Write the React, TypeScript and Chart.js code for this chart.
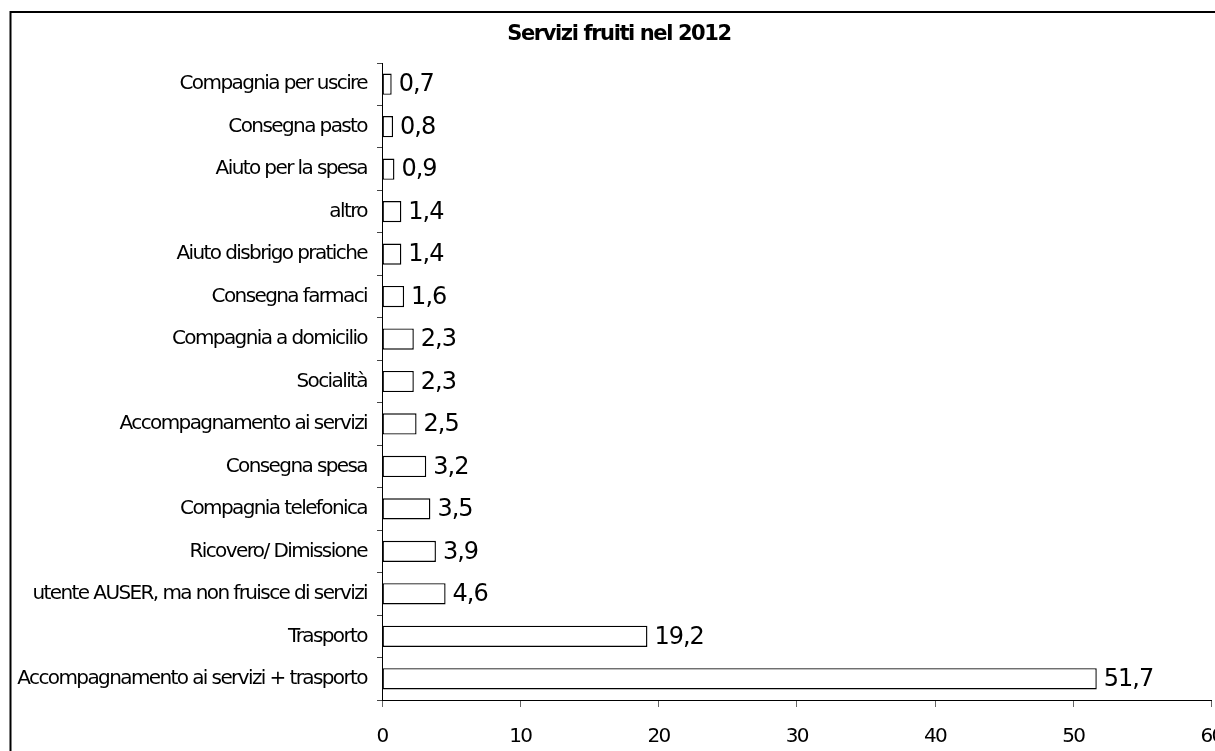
import React, { useEffect, useRef } from "react";
import { Chart, registerables } from "chart.js";

Chart.register(...registerables);

const chartTitle = "Servizi fruiti nel 2012";

const categories = [
  "Compagnia per uscire",
  "Consegna pasto",
  "Aiuto per la spesa",
  "altro",
  "Aiuto disbrigo pratiche",
  "Consegna farmaci",
  "Compagnia a domicilio",
  "Socialità",
  "Accompagnamento ai servizi",
  "Consegna spesa",
  "Compagnia telefonica",
  "Ricovero/ Dimissione",
  "utente AUSER, ma non fruisce di servizi",
  "Trasporto",
  "Accompagnamento ai servizi + trasporto",
];

const values = [0.7, 0.8, 0.9, 1.4, 1.4, 1.6, 2.3, 2.3, 2.5, 3.2, 3.5, 3.9, 4.6, 19.2, 51.7];

const xMin = 0;
const xMax = 60;
const xStep = 10;

const FONT = '"DejaVu Sans", sans-serif';
const SPACING = "-1.6px";

const spacingPlugin = {
  id: "spacing",
  beforeUpdate(chart: any) {
    chart.ctx.letterSpacing = SPACING;
  },
  beforeLayout(chart: any) {
    chart.ctx.letterSpacing = SPACING;
  },
  beforeDraw(chart: any) {
    const ctx = chart.ctx;
    ctx.letterSpacing = SPACING;
    ctx.save();
    ctx.strokeStyle = "#000";
    ctx.lineWidth = 2;
    ctx.strokeRect(10.5, 12, 4000, 4000);
    ctx.letterSpacing = "-1.4px";
    ctx.font = `bold 21px ${FONT}`;
    ctx.fillStyle = "#000";
    ctx.textAlign = "center";
    ctx.textBaseline = "middle";
    ctx.fillText(chartTitle, 619, 35);
    ctx.restore();
  },
};

const labelPlugin = {
  id: "valueLabels",
  afterDatasetsDraw(chart: any) {
    const ctx = chart.ctx;
    const meta = chart.getDatasetMeta(0);
    ctx.save();
    ctx.letterSpacing = "-1px";
    ctx.font = `24px ${FONT}`;
    ctx.fillStyle = "#000";
    ctx.textAlign = "left";
    ctx.textBaseline = "middle";
    meta.data.forEach((bar: any, i: number) => {
      const v = values[i];
      ctx.fillText(v.toFixed(1).replace(".", ","), bar.x + 7, bar.y + 1);
    });
    ctx.restore();
  },
};

export default function App() {
  const ref = useRef<HTMLCanvasElement>(null);

  useEffect(() => {
    if (!ref.current) return;
    const chart = new Chart(ref.current, {
      type: "bar",
      data: {
        labels: categories,
        datasets: [
          {
            data: values,
            backgroundColor: "#ffffff",
            borderColor: "#000000",
            borderWidth: 1.4,
            borderSkipped: false,
            barPercentage: 0.5,
            categoryPercentage: 1,
          },
        ],
      },
      options: {
        indexAxis: "y",
        animation: false,
        responsive: false,
        maintainAspectRatio: false,
        layout: { padding: { left: 12, right: 3.5, top: 63, bottom: 0 } },
        plugins: {
          legend: { display: false },
          tooltip: { enabled: false },
          title: { display: false },
        },
        scales: {
          x: {
            type: "linear",
            position: "bottom",
            min: xMin,
            max: xMax,
            ticks: {
              stepSize: xStep,
              color: "#000",
              font: { family: FONT, size: 20 },
              padding: 18,
              maxRotation: 0,
            },
            grid: {
              drawOnChartArea: false,
              drawTicks: true,
              tickLength: 7,
              color: "#666",
            },
            border: { display: true, color: "#000", width: 1 },
            afterFit(s: any) {
              s.height = 51;
              s.paddingLeft = 0;
              s.paddingRight = 0;
            },
          },
          y: {
            type: "category",
            position: "left",
            ticks: {
              color: "#000",
              font: { family: FONT, size: 20 },
              padding: 10,
              autoSkip: false,
            },
            grid: {
              drawOnChartArea: false,
              drawTicks: true,
              tickLength: 5,
              offset: true,
              color: "#444",
            },
            border: { display: true, color: "#000", width: 1 },
            afterFit(s: any) {
              s.width = 370;
              s.paddingTop = 0;
              s.paddingBottom = 0;
            },
          },
        },
      },
      plugins: [spacingPlugin, labelPlugin],
    } as any);
    return () => chart.destroy();
  }, []);

  return (
    <div
      style={{
        position: "fixed",
        left: 0,
        top: 0,
        width: 1215,
        height: 751,
        overflow: "hidden",
        background: "#fff",
      }}
    >
      <canvas ref={ref} width={1215} height={751} style={{ display: "block", width: 1215, height: 751 }} />
    </div>
  );
}
